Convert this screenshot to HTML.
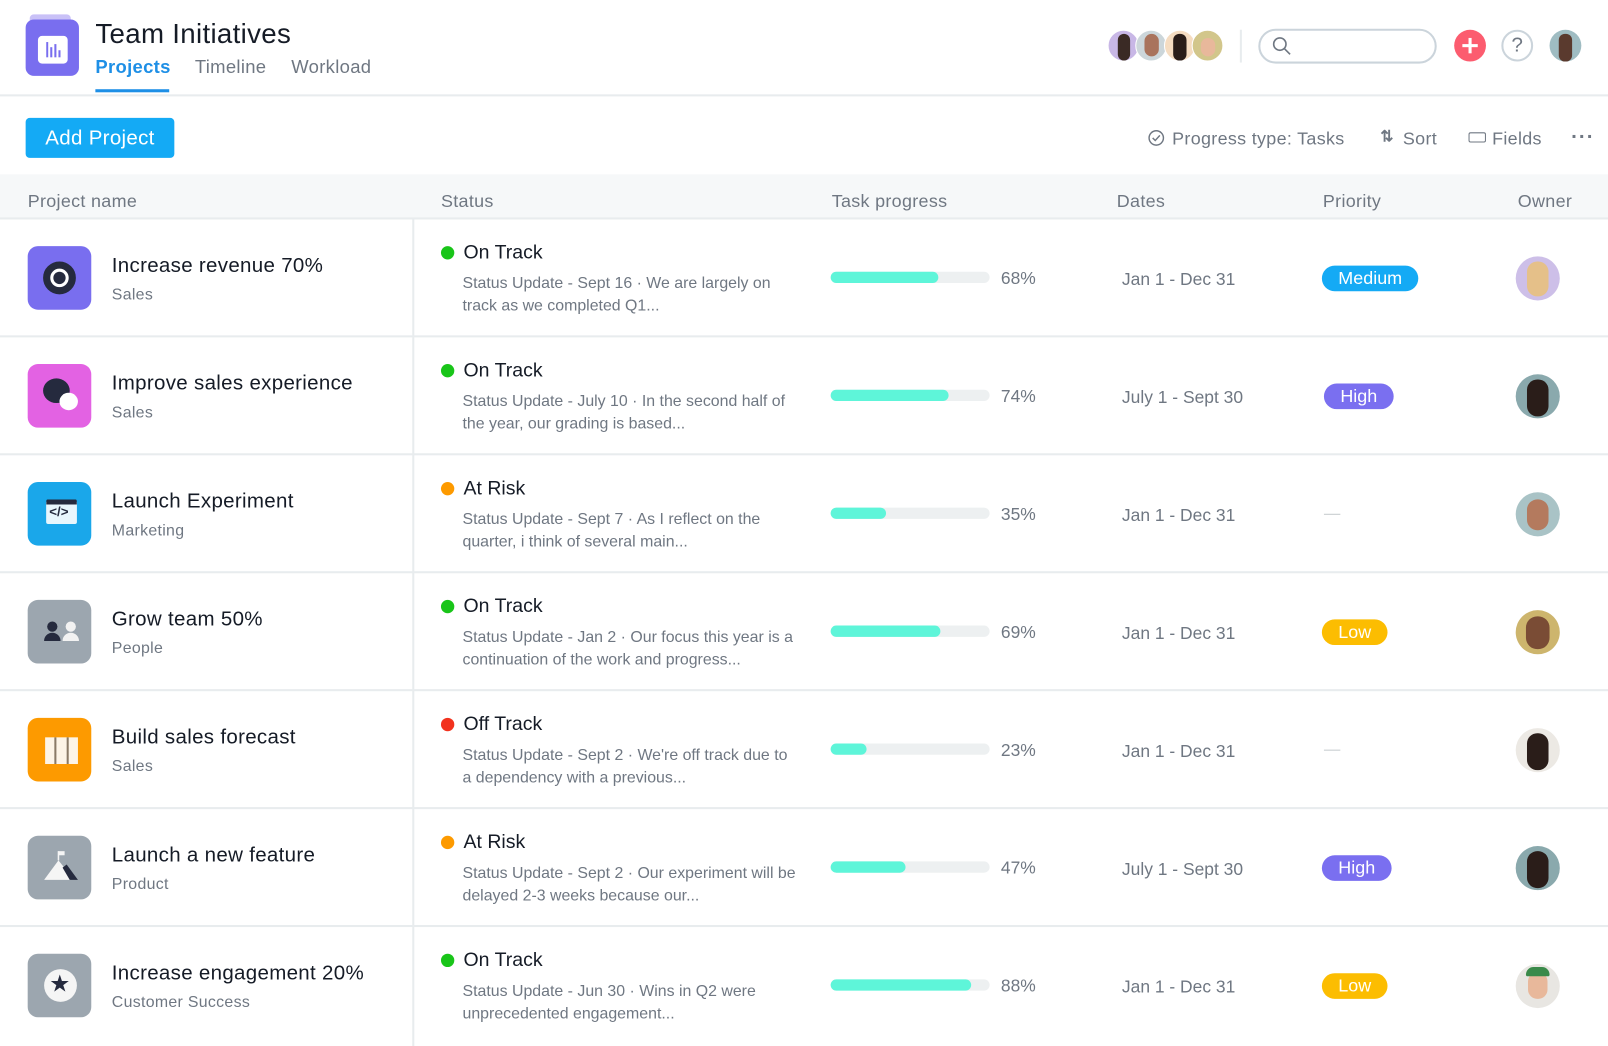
<!DOCTYPE html>
<html><head><meta charset="utf-8">
<style>
*{margin:0;padding:0;box-sizing:border-box}
html,body{width:1608px;height:1046px;overflow:hidden;background:#fff;font-family:"Liberation Sans",sans-serif}
#w{position:absolute;left:0;top:0;width:1568px;height:1020px;transform:scale(1.02551);transform-origin:0 0}
.a{position:absolute}
.t{color:#151b26}
.g{color:#6f7782}
.row{position:absolute;left:0;width:1568px;height:115px;border-bottom:2px solid #e8ecee}
.ic{position:absolute;left:27px;top:26px;width:62px;height:62px;border-radius:10px}
.nm{position:absolute;left:109px;top:34px;font-size:20px;color:#151b26;letter-spacing:.3px}
.sub{position:absolute;left:109px;top:65px;font-size:15.5px;color:#6f7782;letter-spacing:.3px}
.dot{position:absolute;left:430px;top:26px;width:13px;height:13px;border-radius:50%}
.st{position:absolute;left:452px;top:22px;font-size:19px;color:#151b26}
.up{position:absolute;left:451px;top:52px;font-size:15.5px;color:#6f7782;line-height:22px;width:328px}
.bar{position:absolute;left:810px;top:51px;width:155px;height:11px;border-radius:6px;background:#edf0f1}
.bar i{position:absolute;left:0;top:0;height:11px;border-radius:6px;background:#5ef5d9}
.pc{position:absolute;left:976px;top:48px;font-size:17px;color:#6f7782}
.dt{position:absolute;left:1094px;top:49px;font-size:17px;color:#6f7782}
.pr{position:absolute;left:1289px;top:45px;height:25px;border-radius:13px;color:#fff;font-size:17.5px;line-height:25px;padding:0 16px}
.av{position:absolute;left:1478px;top:36px;width:43px;height:43px;border-radius:50%;overflow:hidden}
.dash{position:absolute;left:1291px;top:57px;width:16px;height:1px;background:#c5cacd}
</style></head><body><div id="w">

<div class="a" style="left:29px;top:14px;width:40px;height:8px;border-radius:4px 4px 0 0;background:#c9c1f7"></div>
<div class="a" style="left:25px;top:19px;width:52px;height:55px;border-radius:8px;background:#796eef"></div>
<div class="a" style="left:37px;top:35px;width:29px;height:27px;border-radius:4px;background:#fff"></div>
<svg class="a" style="left:45px;top:41px" width="14" height="15"><g fill="#796eef"><rect x="0" y="0" width="2" height="15"/><rect x="4" y="5" width="2" height="10"/><rect x="8" y="2" width="2" height="13"/><rect x="12" y="8" width="2" height="7"/></g></svg>
<div class="a t" style="left:93px;top:18px;font-size:27px;letter-spacing:.3px">Team Initiatives</div>
<div class="a" style="left:93px;top:55px;font-size:18px;color:#1e8fe6;font-weight:bold;letter-spacing:.3px">Projects</div>
<div class="a" style="left:93px;top:87px;width:72px;height:3px;background:#1e8fe6"></div>
<div class="a g" style="left:190px;top:55px;font-size:18px;letter-spacing:.3px">Timeline</div>
<div class="a g" style="left:284px;top:55px;font-size:18px;letter-spacing:.3px">Workload</div>
<div class="a" style="left:0;top:92px;width:1568px;height:2px;background:#e8ecee"></div>

<div class="a" style="left:1080px;top:29px;width:31px;height:31px;border-radius:50%;background:#c8b7e6;border:1px solid #fff"></div>
<div class="a" style="left:1090px;top:33px;width:12px;height:26px;border-radius:6px;background:#3a2a25"></div>
<div class="a" style="left:1107px;top:29px;width:31px;height:31px;border-radius:50%;background:#ccd6da;border:1px solid #fff"></div>
<div class="a" style="left:1116px;top:33px;width:14px;height:22px;border-radius:7px;background:#a9735c"></div>
<div class="a" style="left:1135px;top:29px;width:31px;height:31px;border-radius:50%;background:#f5dcc1;border:1px solid #fff"></div>
<div class="a" style="left:1144px;top:33px;width:13px;height:26px;border-radius:6px;background:#2a1d19"></div>
<div class="a" style="left:1162px;top:29px;width:31px;height:31px;border-radius:50%;background:#d2c68b;border:1px solid #fff"></div>
<div class="a" style="left:1171px;top:37px;width:14px;height:18px;border-radius:7px;background:#e8b89b"></div>
<div class="a" style="left:1209px;top:29px;width:2px;height:32px;background:#e8ecee"></div>
<div class="a" style="left:1227px;top:28px;width:174px;height:34px;border-radius:17px;border:2px solid #cbd4db"></div>
<svg class="a" style="left:1240px;top:35px" width="20" height="20"><circle cx="8" cy="8" r="6" fill="none" stroke="#6f7782" stroke-width="1.6"/><line x1="12.5" y1="12.5" x2="18" y2="18" stroke="#6f7782" stroke-width="1.6"/></svg>
<div class="a" style="left:1418px;top:29px;width:31px;height:31px;border-radius:50%;background:#fc5c6f"></div>
<div class="a" style="left:1426px;top:43px;width:15px;height:3px;background:#fff"></div>
<div class="a" style="left:1432px;top:37px;width:3px;height:15px;background:#fff"></div>
<div class="a" style="left:1464px;top:29px;width:31px;height:31px;border-radius:50%;border:2px solid #cbd4db;color:#6f7782;font-size:20px;text-align:center;line-height:27px">?</div>
<div class="a" style="left:1511px;top:29px;width:31px;height:31px;border-radius:50%;background:#9fbcc2"></div>
<div class="a" style="left:1520px;top:33px;width:13px;height:27px;border-radius:6px;background:#5a3a2e"></div>

<div class="a" style="left:25px;top:115px;width:145px;height:39px;border-radius:4px;background:#14aaf5;color:#fff;font-size:20px;text-align:center;line-height:40px;letter-spacing:.3px">Add Project</div>
<svg class="a" style="left:1119px;top:126px" width="17" height="17"><circle cx="8.5" cy="8.5" r="7" fill="none" stroke="#6f7782" stroke-width="1.4"/><path d="M5 8.5l2.5 2.5 4.5-5" fill="none" stroke="#6f7782" stroke-width="1.4"/></svg>
<div class="a g" style="left:1143px;top:125px;font-size:17.5px;letter-spacing:.3px">Progress type: Tasks</div>
<div class="a g" style="left:1346px;top:124px;font-size:15px;font-weight:bold">⇅</div>
<div class="a g" style="left:1368px;top:125px;font-size:17.5px;letter-spacing:.3px">Sort</div>
<div class="a" style="left:1432px;top:129px;width:17px;height:10px;border:1.5px solid #6f7782;border-radius:2px"></div>
<div class="a g" style="left:1455px;top:125px;font-size:17.5px;letter-spacing:.3px">Fields</div>
<div class="a g" style="left:1532px;top:123px;font-size:20px;letter-spacing:1px;font-weight:bold">···</div>

<div class="a" style="left:0;top:170px;width:1568px;height:44px;background:#f6f8f9;border-bottom:2px solid #e8ecee"></div>
<div class="a g" style="left:27px;top:186px;font-size:17.5px;letter-spacing:.3px">Project name</div>
<div class="a g" style="left:430px;top:186px;font-size:17.5px;letter-spacing:.3px">Status</div>
<div class="a g" style="left:811px;top:186px;font-size:17.5px;letter-spacing:.3px">Task progress</div>
<div class="a g" style="left:1089px;top:186px;font-size:17.5px;letter-spacing:.3px">Dates</div>
<div class="a g" style="left:1290px;top:186px;font-size:17.5px;letter-spacing:.3px">Priority</div>
<div class="a g" style="left:1480px;top:186px;font-size:17.5px;letter-spacing:.3px">Owner</div>
<div class="a" style="left:402px;top:214px;width:2px;height:806px;background:#e8ecee"></div>

<div class="row" style="top:214px">
<div class="ic" style="background:#796eef"></div>
<div class="a" style="left:42px;top:41px;width:32px;height:32px;border-radius:50%;background:#fff;border:7px solid #252a3e"></div>
<div class="a" style="left:52px;top:51px;width:12px;height:12px;border-radius:50%;background:#252a3e"></div>
<div class="nm">Increase revenue 70%</div><div class="sub">Sales</div>
<div class="dot" style="background:#19c519"></div><div class="st">On Track</div>
<div class="up">Status Update - Sept 16 · We are largely on track as we completed Q1...</div>
<div class="bar"><i style="width:105px"></i></div><div class="pc">68%</div>
<div class="dt">Jan 1 - Dec 31</div>
<div class="pr" style="background:#14aaf5">Medium</div>
<div class="av" style="background:#cdbfe8"><div class="a" style="left:11px;top:5px;width:21px;height:34px;border-radius:10px;background:#e5c089"></div></div>
</div>
<div class="row" style="top:329px">
<div class="ic" style="background:#e362e3"></div>
<div class="a" style="left:42px;top:40px;width:26px;height:24px;border-radius:50%;background:#252a3e"></div>
<div class="a" style="left:58px;top:54px;width:18px;height:17px;border-radius:50%;background:#fff"></div>
<div class="nm">Improve sales experience</div><div class="sub">Sales</div>
<div class="dot" style="background:#19c519"></div><div class="st">On Track</div>
<div class="up">Status Update - July 10 · In the second half of the year, our grading is based...</div>
<div class="bar"><i style="width:115px"></i></div><div class="pc">74%</div>
<div class="dt">July 1 - Sept 30</div>
<div class="pr" style="left:1291px;background:#7a6ff0">High</div>
<div class="av" style="background:#8aa9ad"><div class="a" style="left:11px;top:5px;width:21px;height:36px;border-radius:10px;background:#2a1d19"></div></div>
</div>
<div class="row" style="top:444px">
<div class="ic" style="background:#1aa7ea"></div>
<div class="a" style="left:45px;top:43px;width:30px;height:24px;border-radius:2px;background:#e8f6fd;border-top:5px solid #252a3e"></div>
<div class="a" style="left:48px;top:47px;font-size:13px;font-weight:bold;color:#252a3e">&lt;/&gt;</div>
<div class="nm">Launch Experiment</div><div class="sub">Marketing</div>
<div class="dot" style="background:#fd9a00"></div><div class="st">At Risk</div>
<div class="up">Status Update - Sept 7 · As I reflect on the quarter, i think of several main...</div>
<div class="bar"><i style="width:54px"></i></div><div class="pc">35%</div>
<div class="dt">Jan 1 - Dec 31</div>
<div class="dash"></div>
<div class="av" style="background:#a9c3c6"><div class="a" style="left:11px;top:7px;width:21px;height:30px;border-radius:10px;background:#b47a5e"></div></div>
</div>
<div class="row" style="top:559px">
<div class="ic" style="background:#9ca6af"></div>
<div class="a" style="left:46px;top:47px;width:10px;height:10px;border-radius:50%;background:#252a3e"></div>
<div class="a" style="left:43px;top:58px;width:16px;height:8px;border-radius:8px 8px 0 0;background:#252a3e"></div>
<div class="a" style="left:64px;top:47px;width:10px;height:10px;border-radius:50%;background:#f2f2f2"></div>
<div class="a" style="left:61px;top:58px;width:16px;height:8px;border-radius:8px 8px 0 0;background:#f2f2f2"></div>
<div class="nm">Grow team 50%</div><div class="sub">People</div>
<div class="dot" style="background:#19c519"></div><div class="st">On Track</div>
<div class="up">Status Update - Jan 2 · Our focus this year is a continuation of the work and progress...</div>
<div class="bar"><i style="width:107px"></i></div><div class="pc">69%</div>
<div class="dt">Jan 1 - Dec 31</div>
<div class="pr" style="background:#fcbd01">Low</div>
<div class="av" style="background:#cdb56d"><div class="a" style="left:10px;top:6px;width:23px;height:32px;border-radius:11px;background:#7a4c35"></div></div>
</div>
<div class="row" style="top:674px">
<div class="ic" style="background:#fd9a00"></div>
<div class="a" style="left:44px;top:45px;width:32px;height:26px;background:#fdf4e6"></div>
<div class="a" style="left:53px;top:45px;width:2px;height:26px;background:#8a7a66"></div>
<div class="a" style="left:65px;top:45px;width:2px;height:26px;background:#8a7a66"></div>
<div class="nm">Build sales forecast</div><div class="sub">Sales</div>
<div class="dot" style="background:#f2321e"></div><div class="st">Off Track</div>
<div class="up">Status Update - Sept 2 · We're off track due to a dependency with a previous...</div>
<div class="bar"><i style="width:35px"></i></div><div class="pc">23%</div>
<div class="dt">Jan 1 - Dec 31</div>
<div class="dash"></div>
<div class="av" style="background:#ece9e4"><div class="a" style="left:11px;top:5px;width:21px;height:36px;border-radius:10px;background:#2a1d19"></div></div>
</div>
<div class="row" style="top:789px">
<div class="ic" style="background:#9ca6af"></div>
<svg class="a" style="left:43px;top:40px" width="34" height="30"><polygon points="0,29 14,10 22,20 26,29" fill="#f5f5f5"/><polygon points="18,17 22,14 33,29 25,29" fill="#252a3e"/><line x1="14" y1="10" x2="14" y2="1" stroke="#f5f5f5" stroke-width="1.5"/><rect x="14" y="1" width="6" height="4" fill="#f5f5f5"/></svg>
<div class="nm">Launch a new feature</div><div class="sub">Product</div>
<div class="dot" style="background:#fd9a00"></div><div class="st">At Risk</div>
<div class="up">Status Update - Sept 2 · Our experiment will be delayed 2-3 weeks because our...</div>
<div class="bar"><i style="width:73px"></i></div><div class="pc">47%</div>
<div class="dt">July 1 - Sept 30</div>
<div class="pr" style="background:#7a6ff0">High</div>
<div class="av" style="background:#8aa9ad"><div class="a" style="left:11px;top:5px;width:21px;height:36px;border-radius:10px;background:#2a1d19"></div></div>
</div>
<div class="row" style="top:904px;border-bottom:none">
<div class="ic" style="background:#9ca6af"></div>
<div class="a" style="left:43px;top:41px;width:32px;height:32px;border-radius:50%;background:#f5f5f5"></div>
<div class="a" style="left:48px;top:42px;font-size:23px;color:#252a3e">★</div>
<div class="nm">Increase engagement 20%</div><div class="sub">Customer Success</div>
<div class="dot" style="background:#19c519"></div><div class="st">On Track</div>
<div class="up">Status Update - Jun 30 · Wins in Q2 were unprecedented engagement...</div>
<div class="bar"><i style="width:137px"></i></div><div class="pc">88%</div>
<div class="dt">Jan 1 - Dec 31</div>
<div class="pr" style="background:#fcbd01">Low</div>
<div class="av" style="background:#e8e6e2"><div class="a" style="left:12px;top:8px;width:19px;height:26px;border-radius:9px;background:#e8b89b"></div><div class="a" style="left:10px;top:3px;width:23px;height:9px;border-radius:9px 9px 2px 2px;background:#3a8a4a"></div></div>
</div>

</div></body></html>
